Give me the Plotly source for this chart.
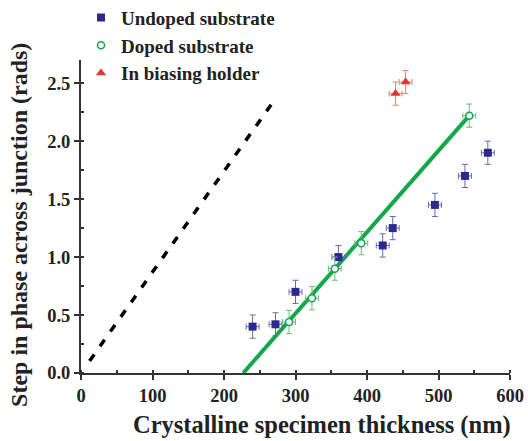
import plotly.graph_objects as go

# Undoped substrate
undoped_x = [240, 272, 300, 360, 422, 436, 495, 537, 569]
undoped_y = [0.40, 0.42, 0.70, 1.00, 1.10, 1.25, 1.45, 1.70, 1.90]
# Doped substrate
doped_x = [291, 323, 355, 392, 543]
doped_y = [0.44, 0.645, 0.90, 1.12, 2.22]
# In biasing holder
holder_x = [440, 454]
holder_y = [2.41, 2.51]

x_err = 9
y_err = 0.10

# Fit line and theoretical dashed line
fit_x = [227, 543]
fit_y = [0.0, 2.22]
theory_x = [12, 270]
theory_y = [0.104, 2.35]

x_ticks = [0, 100, 200, 300, 400, 500, 600]
y_ticks = [0.0, 0.5, 1.0, 1.5, 2.0, 2.5]

x_title = "Crystalline specimen thickness (nm)"
y_title = "Step in phase across junction (rads)"

blue = "#2b2a8e"
green = "#12a84a"
red = "#e5352b"

fig = go.Figure()
fig.add_trace(go.Scatter(x=theory_x, y=theory_y, mode="lines",
                         line=dict(color="black", width=3.5, dash="8px,10px"),
                         showlegend=False, hoverinfo="skip"))
fig.add_trace(go.Scatter(x=fit_x, y=fit_y, mode="lines",
                         line=dict(color=green, width=4),
                         showlegend=False, hoverinfo="skip"))
fig.add_trace(go.Scatter(
    x=undoped_x, y=undoped_y, mode="markers", name="Undoped substrate",
    marker=dict(symbol="square", size=8, color=blue),
    error_x=dict(type="constant", value=x_err, color="#6a68b8", thickness=1, width=3),
    error_y=dict(type="constant", value=y_err, color="#6a68b8", thickness=1, width=3)))
fig.add_trace(go.Scatter(
    x=doped_x, y=doped_y, mode="markers", name="Doped substrate",
    marker=dict(symbol="circle", size=7, color="white", line=dict(color=green, width=1.5)),
    error_x=dict(type="constant", value=x_err, color="#6cbb78", thickness=1, width=3),
    error_y=dict(type="constant", value=y_err, color="#6cbb78", thickness=1, width=3)))
fig.add_trace(go.Scatter(
    x=holder_x, y=holder_y, mode="markers", name="In biasing holder",
    marker=dict(symbol="triangle-up", size=9, color=red),
    error_x=dict(type="constant", value=x_err, color="#ef7a70", thickness=1, width=3),
    error_y=dict(type="constant", value=y_err, color="#ef7a70", thickness=1, width=3)))

font_family = "Liberation Serif"
fig.update_layout(
    width=528, height=441,
    margin=dict(l=81, r=18, t=60, b=68, autoexpand=False),
    paper_bgcolor="white", plot_bgcolor="white",
    font=dict(family=font_family, color="#222222"),
    legend=dict(x=0.0, y=1.196, xanchor="left", yanchor="top",
                font=dict(family=font_family, size=19, color="#222222", weight="bold"),
                bgcolor="rgba(0,0,0,0)", itemwidth=30, tracegroupgap=0),
    xaxis=dict(range=[0, 600], tickvals=x_ticks, ticktext=[str(v) for v in x_ticks],
               automargin=False,
               showgrid=False, zeroline=False, showline=True, linecolor="#333333", linewidth=2,
               ticks="outside", ticklen=5, tickwidth=1.5, tickcolor="#333333",
               minor=dict(dtick=50, ticks="inside", ticklen=3, tickcolor="#333333", tickwidth=1.5),
               tickfont=dict(family=font_family, size=18.5, weight="bold", color="#222222")),
    yaxis=dict(range=[0, 2.7], tickvals=y_ticks, ticktext=["%.1f" % v for v in y_ticks],
               automargin=False,
               showgrid=False, zeroline=False, showline=True, linecolor="#333333", linewidth=2,
               ticks="outside", ticklen=5, tickwidth=1.5, tickcolor="#333333",
               minor=dict(dtick=0.25, ticks="inside", ticklen=3, tickcolor="#333333", tickwidth=1.5),
               tickfont=dict(family=font_family, size=18.5, weight="bold", color="#222222")),
    annotations=[
        dict(text=x_title, xref="paper", yref="paper", x=0.561, y=-0.166,
             xanchor="center", yanchor="middle", showarrow=False,
             font=dict(family=font_family, size=24.5, weight="bold", color="#222222")),
        dict(text=y_title, xref="paper", yref="paper", x=-0.1445, y=0.473,
             xanchor="center", yanchor="middle", showarrow=False, textangle=-90,
             font=dict(family=font_family, size=24, weight="bold", color="#222222")),
    ],
)

fig.write_html("out.html")
